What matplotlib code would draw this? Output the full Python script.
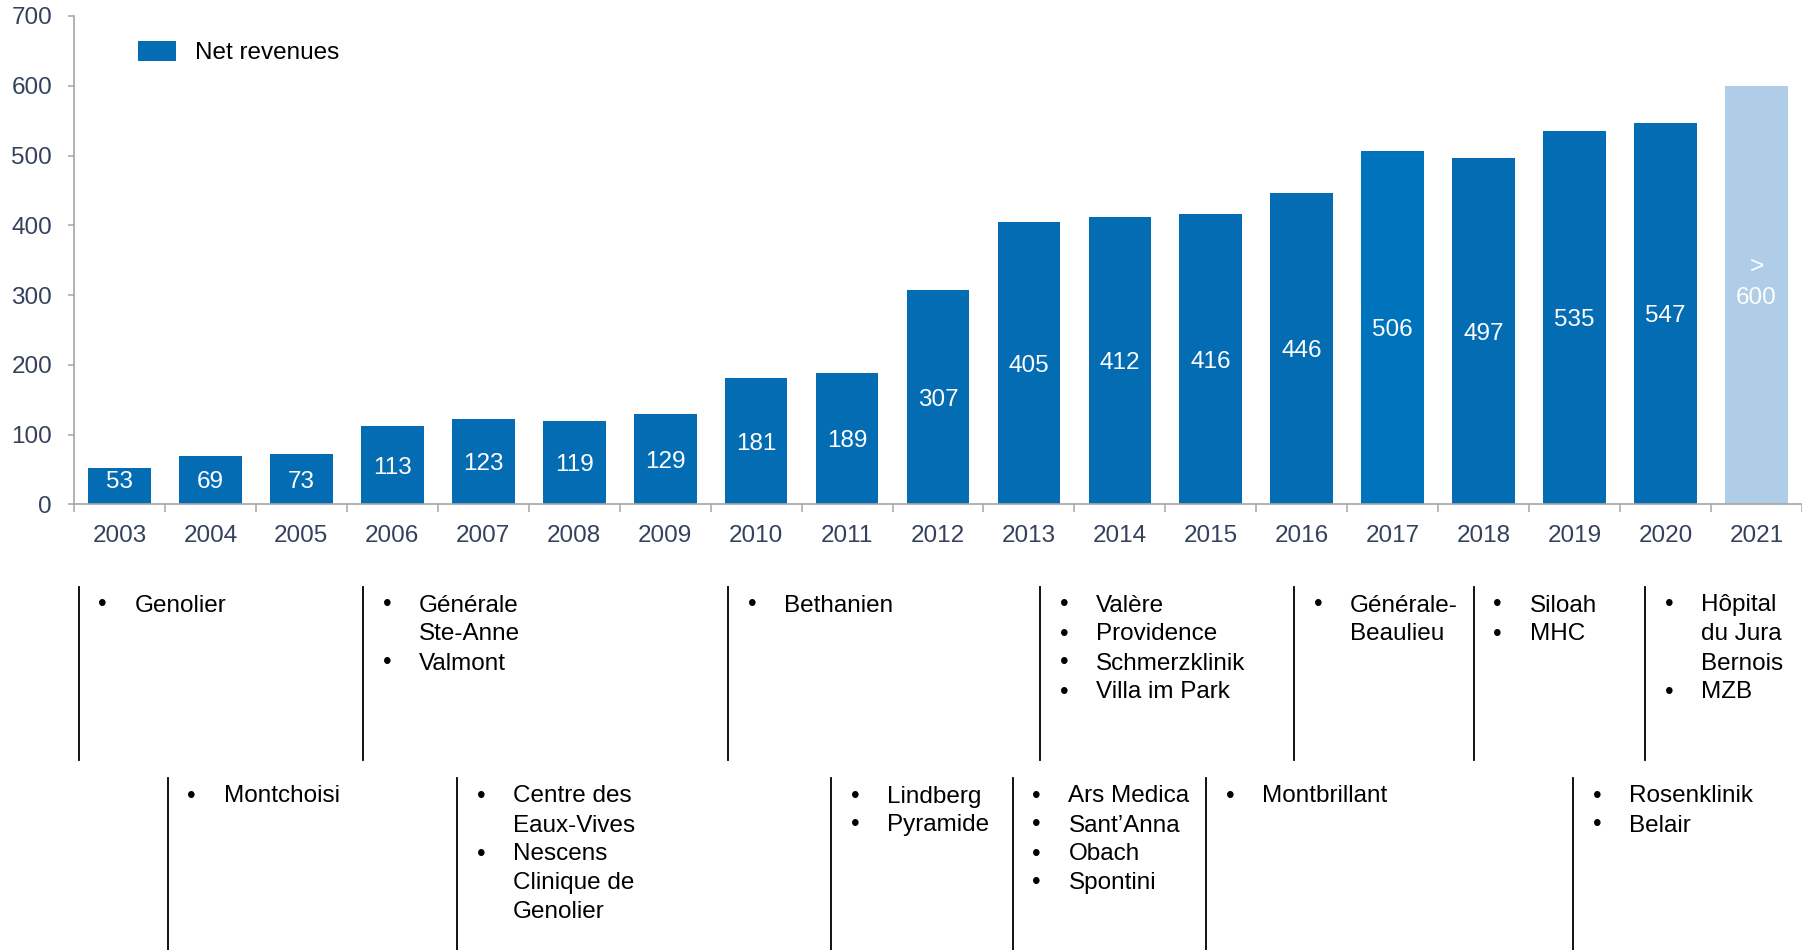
import matplotlib
matplotlib.use("Agg")
import matplotlib.pyplot as plt
from matplotlib.patches import Patch
from matplotlib.lines import Line2D

plt.rcParams['font.family'] = ['Liberation Sans', 'DejaVu Sans']

# ---------------- data ----------------
years = ['2003', '2004', '2005', '2006', '2007', '2008', '2009', '2010', '2011',
         '2012', '2013', '2014', '2015', '2016', '2017', '2018', '2019', '2020', '2021']
net_revenues = [53, 69, 73, 113, 123, 119, 129, 181, 189, 307, 405, 412, 416,
                446, 506, 497, 535, 547, 600]
value_labels = ['53', '69', '73', '113', '123', '119', '129', '181', '189', '307',
                '405', '412', '416', '446', '506', '497', '535', '547', '> 600']
yticks = [0, 100, 200, 300, 400, 500, 600, 700]
legend_label = 'Net revenues'

upper_acq = [
    ['Genolier'],
    ['Générale\nSte-Anne', 'Valmont'],
    ['Bethanien'],
    ['Valère', 'Providence', 'Schmerzklinik', 'Villa im Park'],
    ['Générale-\nBeaulieu'],
    ['Siloah', 'MHC'],
    ['Hôpital\ndu Jura\nBernois', 'MZB'],
]
lower_acq = [
    ['Montchoisi'],
    ['Centre des\nEaux-Vives', 'Nescens\nClinique de\nGenolier'],
    ['Lindberg', 'Pyramide'],
    ['Ars Medica', 'Sant’Anna', 'Obach', 'Spontini'],
    ['Montbrillant'],
    ['Rosenklinik', 'Belair'],
]

# ---------------- layout / style ----------------
W, H = 1802, 950
DPI = 100
upper_x = [78.6, 363, 728, 1040, 1294, 1473.5, 1645]
lower_x = [167.6, 457, 831, 1012.5, 1206, 1573]
upper_span = (587, 760)
lower_span = (778, 950)
upper_y0, lower_y0 = 603, 794
line_step = 29
FS = 17.5
DARK = '#046CB3'
LIGHT2017 = '#0073BD'
FORECAST = '#AFCDE7'
TICKC = '#33415C'
AXC = '#A6A6A6'

bar_colors = [DARK] * len(years)
bar_colors[years.index('2017')] = LIGHT2017
bar_colors[-1] = FORECAST

fig = plt.figure(figsize=(W / DPI, H / DPI), dpi=DPI)
ax_left, ax_bottom = 74 / W, 1 - 504.5 / H
ax_top = 1 - 16 / H
ax = fig.add_axes([ax_left, ax_bottom, 1 - ax_left, ax_top - ax_bottom])

x = list(range(len(years)))
ax.bar(x, net_revenues, width=0.69, color=bar_colors, linewidth=0, zorder=2)
ax.set_xlim(-0.5, len(years) - 0.5)
ax.set_ylim(0, 700)

for spine in ['top', 'right']:
    ax.spines[spine].set_visible(False)
for spine in ['left', 'bottom']:
    ax.spines[spine].set_color(AXC)
    ax.spines[spine].set_linewidth(1.2)

ax.set_yticks(yticks)
ax.set_yticklabels([str(v) for v in yticks], va='center_baseline')
ax.tick_params(axis='y', length=4.3, width=1.1, color=AXC, pad=11.5,
               labelsize=FS, labelcolor=TICKC)
ax.set_xticks(x)
ax.set_xticklabels(years)
ax.tick_params(axis='x', which='major', length=0, pad=15, labelsize=FS,
               labelcolor=TICKC)
ax.set_xticks([i - 0.5 for i in range(len(years) + 1)], minor=True)
ax.tick_params(axis='x', which='minor', length=5.8, width=1.1, color=AXC,
               direction='out')

# value labels inside bars
for i, (v, lab) in enumerate(zip(net_revenues, value_labels)):
    yc = max(v / 2, 36)
    if lab.startswith('>'):
        num = lab.replace('>', '').strip()
        ax.text(i, yc, num, ha='center', va='center_baseline', color='white',
                fontsize=FS, zorder=3)
        ax.annotate('>', xy=(i, yc), xytext=(0, 22), textcoords='offset points',
                    ha='center', va='center_baseline', color='white',
                    fontsize=FS, zorder=3)
    else:
        ax.text(i, yc, lab, ha='center', va='center_baseline', color='white',
                fontsize=FS, zorder=3)

# legend
handle = Patch(facecolor=DARK, edgecolor='none', label=legend_label)
fig.legend(handles=[handle], loc='upper left',
           bbox_to_anchor=(138 / W, 1 - 41 / H), bbox_transform=fig.transFigure,
           frameon=False, fontsize=FS, handlelength=1.56, handleheight=0.86,
           handletextpad=0.78, borderpad=0, borderaxespad=0)

# acquisitions timeline (pixel overlay)
ov = fig.add_axes([0, 0, 1, 1], facecolor='none')
ov.set_xlim(0, W)
ov.set_ylim(H, 0)
ov.axis('off')


def draw_group(xl, items, span, y0):
    ov.add_line(Line2D([xl, xl], list(span), color='black', linewidth=1.3))
    row = 0
    for item in items:
        parts = item.split('\n')
        yb = y0 + row * line_step
        ov.text(xl + 24, yb, '•', ha='center', va='center_baseline',
                fontsize=FS, color='black')
        for k, p in enumerate(parts):
            ov.text(xl + 56, y0 + (row + k) * line_step, p, ha='left',
                    va='center_baseline', fontsize=FS, color='black')
        row += len(parts)


for xl, items in zip(upper_x, upper_acq):
    draw_group(xl, items, upper_span, upper_y0)
for xl, items in zip(lower_x, lower_acq):
    draw_group(xl, items, lower_span, lower_y0)

fig.savefig('out.png', dpi=DPI)
